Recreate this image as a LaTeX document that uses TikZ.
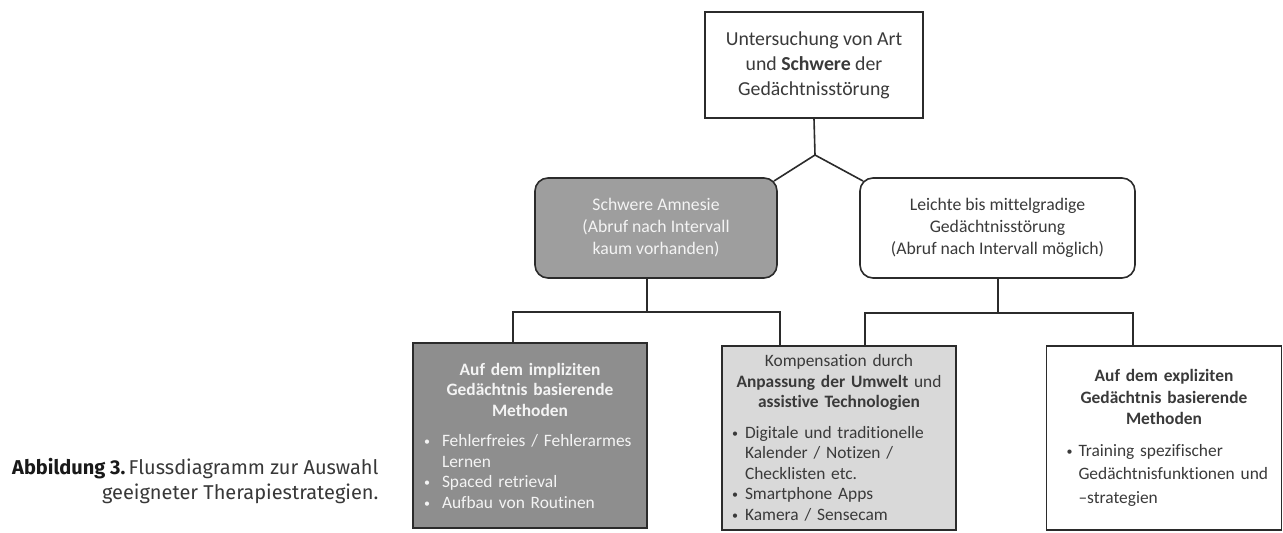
\documentclass[tikz,border=0pt]{standalone}
\usepackage{fontspec}
\setmainfont{Carlito}[RawFeature={-liga;-clig;-calt;-dlig}]
\newfontfamily\capfont{Fira Sans}
\usetikzlibrary{calc}
\definecolor{linec}{HTML}{2B2B2B}
\definecolor{txt}{HTML}{3A3A3A}
\definecolor{greyA}{HTML}{9E9E9E}
\definecolor{greyB}{HTML}{8E8E8E}
\definecolor{greyC}{HTML}{D9D9D9}
\definecolor{lighttxt}{HTML}{F4F4F4}
\newcommand{\bl}[1]{\makebox[#1][l]{\raisebox{1pt}{\fontsize{12}{12}\selectfont\textbullet}}}
\tikzset{
  conn/.style={draw=linec, line width=1.6pt},
  boxbase/.style={draw=linec, line width=1.6pt, inner sep=0pt},
  topbox/.style={boxbase, fill=white, text=txt, minimum width=218pt, minimum height=106pt,
     align=center, font=\fontsize{19.8}{25}\selectfont},
  midbox/.style={boxbase, rounded corners=13pt, minimum height=100pt,
     align=center, font=\fontsize{17.7}{22}\selectfont},
  lowbox/.style={boxbase, text width=#1,
     font=\fontsize{17.4}{20.5}\selectfont},
}
\begin{document}
\begin{tikzpicture}[x=1pt,y=-1pt]
\useasboundingbox (0,0) rectangle (1283,533);
\fill[white] (0,0) rectangle (1283,533);

\node[topbox] (top) at (814,65) {Untersuchung von Art\\und \textbf{Schwere} der\\Gedächtnisstörung};

\node[midbox, minimum width=242pt, fill=greyA, text=lighttxt] (grey) at (656,228)
  {Schwere Amnesie\\(Abruf nach Intervall\\kaum vorhanden)};
\node[midbox, minimum width=275pt, fill=white, text=txt] (mild) at (997.5,228)
  {Leichte bis mittelgradige\\Gedächtnisstörung\\(Abruf nach Intervall möglich)};

\node[lowbox=212pt, minimum width=234pt, minimum height=185pt, fill=greyB, text=lighttxt] (impl) at (530,435.5)
  {\parindent=0pt
   {\centering\bfseries Auf dem impliziten\\Gedächtnis basierende\\Methoden\par}
   \vspace{10pt}
   {\raggedright \bl{18pt}Fehlerfreies / Fehlerarmes\par
    \hspace*{18pt}Lernen\par
    \bl{18pt}Spaced retrieval\par
    \bl{18pt}Aufbau von Routinen\par}};

\node[lowbox=214pt, minimum width=234pt, minimum height=184pt, fill=greyC, text=txt] (komp) at (839,438)
  {\parindent=0pt
   {\centering Kompensation durch\\\textbf{Anpassung der Umwelt} und\\\textbf{assistive Technologien}\par}
   \vspace{10pt}
   {\raggedright \bl{13pt}Digitale und traditionelle\par
    \hspace*{13pt}Kalender / Notizen /\par
    \hspace*{13pt}Checklisten etc.\par
    \bl{13pt}Smartphone Apps\par
    \bl{13pt}Kamera / Sensecam\par}};

\node[lowbox=195pt, minimum width=235pt, minimum height=184pt, fill=white, text=txt] (expl) at (1164,438)
  {\parindent=0pt
   {\centering\bfseries\fontsize{17.4}{21.5}\selectfont Auf dem expliziten\\Gedächtnis basierende\\Methoden\par}
   \vspace{8pt}
   {\fontsize{17.4}{23.5}\selectfont\raggedright \mbox{\bl{12pt}Training spezifischer}\par
    \mbox{\hspace*{12pt}Gedächtnisfunktionen und}\par
    \mbox{\hspace*{12pt}–strategien}\par}};

% connectors
\coordinate (apex) at (815,155);
\draw[conn] (top.south) -- (apex);
\draw[conn] ($(grey.north east)+(-3.8,3.8)$) -- (apex) -- ($(mild.north west)+(3.8,3.8)$);

\coordinate (gdown) at (647,312);
\coordinate (bl) at (513,312);
\coordinate (br) at (780,312);
\draw[conn] (gdown |- grey.south) -- (gdown);
\draw[conn] (bl |- impl.north) -- (bl) -- (br) -- (br |- komp.north);

\coordinate (mdown) at (998,313);
\coordinate (cl) at (865,313);
\coordinate (cr) at (1133,313);
\draw[conn] (mdown |- mild.south) -- (mdown);
\draw[conn] (cl |- komp.north) -- (cl) -- (cr) -- (cr |- expl.north);

\node[anchor=east, align=right, text=black!78, font=\capfont\fontsize{20}{24.5}\selectfont] (cap) at (382,481)
  {\textcolor{black!90}{\textbf{Abbildung 3.}}\,Flussdiagramm zur Auswahl\\geeigneter Therapiestrategien.};
\end{tikzpicture}
\end{document}
